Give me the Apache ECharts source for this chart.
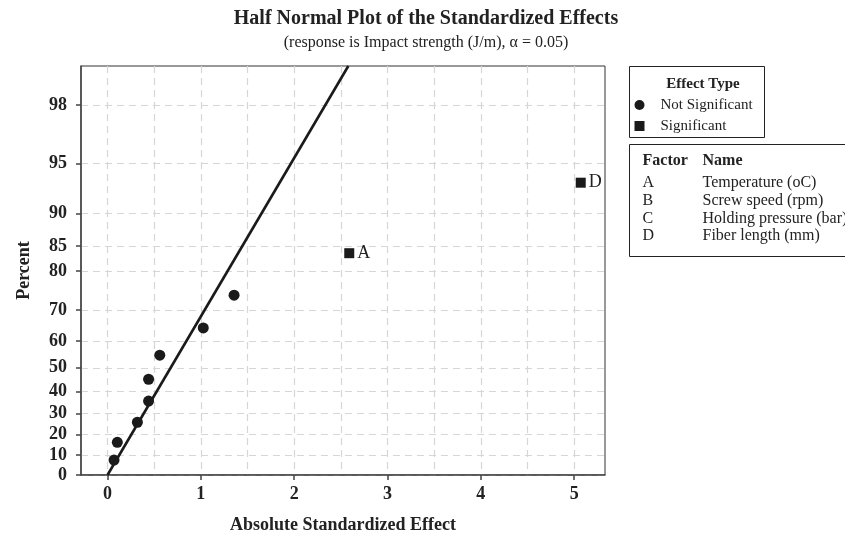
<!DOCTYPE html>
<html>
<head>
<meta charset="utf-8">
<script src="https://cdn.jsdelivr.net/npm/echarts@6/dist/echarts.min.js"></script>
<style>html,body{margin:0;padding:0;background:#fff}#c{width:845px;height:543px}</style>
</head>
<body>
<div id="c"></div>
<script>
// ---- data ----
const percentTicks = [0, 10, 20, 30, 40, 50, 60, 70, 80, 85, 90, 95, 98];
const xTicks = [0, 1, 2, 3, 4, 5];
const xGridTicks = [0, 0.5, 1, 1.5, 2, 2.5, 3, 3.5, 4, 4.5, 5];
const notSigEffect = [0.07, 0.105, 0.32, 0.44, 0.44, 0.56, 1.026, 1.356];
const notSigPercent = [7.5, 16.3, 26.0, 35.8, 45.3, 54.9, 64.5, 74.2];
const sigNames = ['A', 'D'];
const sigEffect = [2.59, 5.07];
const sigPercent = [83.7, 93.4];
const fitLineEffect = [0, 2.58];
const fitLinePercent = [0, 98.99];
const factorCodes = ['A', 'B', 'C', 'D'];
const factorNames = ['Temperature (oC)', 'Screw speed (rpm)', 'Holding pressure (bar)', 'Fiber length (mm)'];
const yMaxPercent = 98.99;

// half-normal probability scale
function normInv(p){
  const a=[-3.969683028665376e+01,2.209460984245205e+02,-2.759285104469687e+02,1.383577518672690e+02,-3.066479806614716e+01,2.506628277459239e+00];
  const b=[-5.447609879822406e+01,1.615858368580409e+02,-1.556989798598866e+02,6.680131188771972e+01,-1.328068155288572e+01];
  const c=[-7.784894002430293e-03,-3.223964580411365e-01,-2.400758277161838e+00,-2.549732539343734e+00,4.374664141464968e+00,2.938163982698783e+00];
  const d=[7.784695709041462e-03,3.224671290700398e-01,2.445134137142996e+00,3.754408661907416e+00];
  const pl=0.02425, ph=1-pl; let q,r;
  if(p<pl){q=Math.sqrt(-2*Math.log(p));return (((((c[0]*q+c[1])*q+c[2])*q+c[3])*q+c[4])*q+c[5])/((((d[0]*q+d[1])*q+d[2])*q+d[3])*q+1);}
  if(p<=ph){q=p-0.5;r=q*q;return (((((a[0]*r+a[1])*r+a[2])*r+a[3])*r+a[4])*r+a[5])*q/(((((b[0]*r+b[1])*r+b[2])*r+b[3])*r+b[4])*r+1);}
  q=Math.sqrt(-2*Math.log(1-p));return -(((((c[0]*q+c[1])*q+c[2])*q+c[3])*q+c[4])*q+c[5])/((((d[0]*q+d[1])*q+d[2])*q+d[3])*q+1);
}
const hz = pct => pct <= 0 ? 0 : normInv(0.5 + pct / 200);
const zTicks = percentTicks.map(hz);

const FONT = "'Liberation Serif','Times New Roman',serif";
const gridColor = '#d6d6d6';

const chart = echarts.init(document.getElementById('c'), null, {renderer: 'canvas'});

const graphics = [];
// legend box 1
graphics.push({type:'rect', shape:{x:629.5,y:66.5,width:135,height:71}, style:{fill:'none',stroke:'#222',lineWidth:1}});
graphics.push({type:'text', x:703, y:84, style:{text:'Effect Type', font:'bold 15px '+FONT, fill:'#222', align:'center', verticalAlign:'middle'}});
graphics.push({type:'circle', shape:{cx:639.5, cy:105, r:5}, style:{fill:'#1a1a1a'}});
graphics.push({type:'text', x:660.5, y:105, style:{text:'Not Significant', font:'15px '+FONT, fill:'#222', verticalAlign:'middle'}});
graphics.push({type:'rect', shape:{x:634.5, y:121, width:10, height:10}, style:{fill:'#1a1a1a'}});
graphics.push({type:'text', x:660.5, y:126, style:{text:'Significant', font:'15px '+FONT, fill:'#222', verticalAlign:'middle'}});
// legend box 2
graphics.push({type:'rect', shape:{x:629.5,y:144.5,width:230,height:112}, style:{fill:'none',stroke:'#222',lineWidth:1}});
graphics.push({type:'text', x:642.5, y:161, style:{text:'Factor', font:'bold 16px '+FONT, fill:'#222', verticalAlign:'middle'}});
graphics.push({type:'text', x:702.5, y:161, style:{text:'Name', font:'bold 16px '+FONT, fill:'#222', verticalAlign:'middle'}});
const rowY = [183, 201, 218.5, 236];
factorCodes.forEach((f, i) => {
  graphics.push({type:'text', x:642.5, y:rowY[i], style:{text:f, font:'16px '+FONT, fill:'#222', verticalAlign:'middle'}});
  graphics.push({type:'text', x:702.5, y:rowY[i], style:{text:factorNames[i], font:'16px '+FONT, fill:'#222', verticalAlign:'middle'}});
});

const option = {
  animation: false,
  backgroundColor: '#fff',
  title: {
    text: 'Half Normal Plot of the Standardized Effects',
    subtext: '(response is Impact strength (J/m), \u03b1 = 0.05)',
    left: 421, top: 4, textAlign: 'center', itemGap: 6,
    textStyle: {fontFamily: FONT, fontWeight: 'bold', fontSize: 20, color: '#222'},
    subtextStyle: {fontFamily: FONT, fontSize: 16, color: '#222'}
  },
  grid: {left: 81, top: 66, right: 240, bottom: 68, show: true, borderColor: '#333', borderWidth: 1, containLabel: false},
  xAxis: [{
    type: 'value', min: -0.284, max: 5.33,
    name: 'Absolute Standardized Effect', nameLocation: 'middle', nameGap: 41,
    nameTextStyle: {fontFamily: FONT, fontWeight: 'bold', fontSize: 18, color: '#222'},
    axisLine: {show: true, onZero: false, lineStyle: {color: '#444', width: 1.5}},
    axisTick: {show: true, length: 5, customValues: xTicks, lineStyle: {color: '#444', width: 1.5}},
    axisLabel: {customValues: xTicks, margin: 10, fontFamily: FONT, fontWeight: 'bold', fontSize: 18, color: '#222'},
    splitLine: {show: false}
  }, {
    type: 'value', min: -0.284, max: 5.33, position: 'bottom',
    axisLine: {show: false}, axisLabel: {show: false},
    axisTick: {show: false, customValues: xGridTicks},
    splitLine: {show: true, lineStyle: {color: gridColor, type: [7, 5], width: 1.2}}
  }],
  yAxis: {
    type: 'value', min: 0, max: hz(yMaxPercent),
    name: 'Percent', nameLocation: 'middle', nameGap: 48, nameRotate: 90,
    nameTextStyle: {fontFamily: FONT, fontWeight: 'bold', fontSize: 18, color: '#222'},
    axisLine: {show: true, onZero: false, lineStyle: {color: '#444', width: 1.5}},
    axisTick: {show: true, length: 5, customValues: zTicks, lineStyle: {color: '#444', width: 1.5}},
    axisLabel: {
      customValues: zTicks, margin: 14, fontFamily: FONT, fontWeight: 'bold', fontSize: 18, color: '#222',
      formatter: v => {
        let best = 0, bd = Infinity;
        zTicks.forEach((z, i) => { const dd = Math.abs(z - v); if (dd < bd) { bd = dd; best = i; } });
        return String(percentTicks[best]);
      }
    },
    splitLine: {show: true, lineStyle: {color: gridColor, type: [7, 5], width: 1.2}}
  },
  series: [{
    name: 'Fit', type: 'line', xAxisIndex: 0,
    data: fitLineEffect.map((x, i) => [x, hz(fitLinePercent[i])]),
    showSymbol: false, symbol: 'none', lineStyle: {color: '#1a1a1a', width: 2.6}, z: 3
  }, {
    name: 'Not Significant', type: 'scatter', xAxisIndex: 0,
    data: notSigEffect.map((x, i) => [x, hz(notSigPercent[i])]),
    symbol: 'circle', symbolSize: 11, itemStyle: {color: '#1a1a1a', opacity: 1}, z: 4
  }, {
    name: 'Significant', type: 'scatter', xAxisIndex: 0,
    data: sigEffect.map((x, i) => ({name: sigNames[i], value: [x, hz(sigPercent[i])]})),
    symbol: 'rect', symbolSize: 10, itemStyle: {color: '#1a1a1a', opacity: 1}, z: 4,
    label: {show: true, position: 'right', distance: 3, formatter: '{b}', fontFamily: FONT, fontSize: 18, color: '#222'}
  }],
  graphic: graphics
};
chart.setOption(option);
</script>
</body>
</html>
